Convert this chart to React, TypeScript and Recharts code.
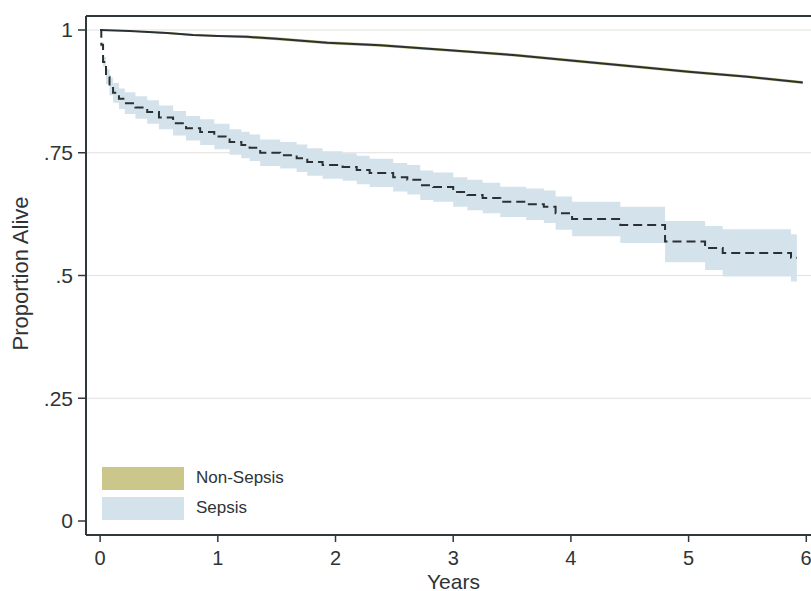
import {
  ComposedChart,
  Area,
  Line,
  XAxis,
  YAxis,
  CartesianGrid,
  ReferenceLine,
} from 'recharts'

// Kaplan-Meier estimates
const sepsisYears = [
  0, 0.01, 0.025, 0.05, 0.08, 0.11, 0.16, 0.21, 0.3, 0.4, 0.5, 0.62, 0.73, 0.85, 0.97,
  1.1, 1.2, 1.27, 1.36, 1.53, 1.67, 1.76, 1.89, 2.06, 2.18, 2.29, 2.49, 2.61, 2.72, 2.83,
  3.0, 3.12, 3.25, 3.4, 3.62, 3.77, 3.87, 4.01, 4.42, 4.8, 5.14, 5.29, 5.87, 5.92,
]
const sepsisSurv = [
  1, 0.97, 0.935, 0.905, 0.885, 0.872, 0.86, 0.851, 0.842, 0.833, 0.822, 0.81, 0.8, 0.792, 0.783,
  0.772, 0.766, 0.76, 0.75, 0.745, 0.739, 0.731, 0.725, 0.721, 0.715, 0.709, 0.7, 0.695, 0.684, 0.68,
  0.67, 0.664, 0.658, 0.65, 0.645, 0.64, 0.627, 0.615, 0.603, 0.569, 0.556, 0.546, 0.536, 0.536,
]
const sepsisLow = [
  1, 0.965, 0.925, 0.89, 0.867, 0.852, 0.839, 0.829, 0.819, 0.809, 0.798, 0.785, 0.775, 0.766, 0.757,
  0.746, 0.739, 0.733, 0.723, 0.718, 0.711, 0.703, 0.697, 0.693, 0.686, 0.68, 0.671, 0.665, 0.654, 0.65,
  0.64, 0.633, 0.627, 0.619, 0.613, 0.607, 0.593, 0.58, 0.566, 0.527, 0.511, 0.498, 0.488, 0.488,
]
const sepsisHigh = [
  1, 0.975, 0.945, 0.92, 0.903, 0.892, 0.881, 0.873, 0.865, 0.857, 0.846, 0.835, 0.825, 0.818, 0.809,
  0.798, 0.793, 0.787, 0.777, 0.772, 0.767, 0.759, 0.753, 0.749, 0.744, 0.738, 0.729, 0.725, 0.714, 0.71,
  0.7, 0.695, 0.689, 0.681, 0.677, 0.673, 0.661, 0.65, 0.64, 0.611, 0.601, 0.594, 0.584, 0.584,
]

const nonSepsisYears = [0, 0.25, 0.57, 0.79, 1.0, 1.25, 1.5, 1.93, 2.38, 3.0, 3.51, 4.0, 4.65, 5.0, 5.5, 5.97]
const nonSepsisSurv = [1, 0.998, 0.994, 0.99, 0.988, 0.986, 0.982, 0.974, 0.969, 0.958, 0.949, 0.938, 0.923, 0.915, 0.905, 0.893]
const nonSepsisLow = [1, 0.997, 0.992, 0.988, 0.986, 0.983, 0.979, 0.971, 0.966, 0.955, 0.946, 0.935, 0.92, 0.912, 0.902, 0.89]
const nonSepsisHigh = [1, 0.999, 0.996, 0.992, 0.99, 0.989, 0.985, 0.977, 0.972, 0.961, 0.952, 0.941, 0.926, 0.918, 0.908, 0.896]

const xTicks = [0, 1, 2, 3, 4, 5, 6]
const yTicks = [0, 0.25, 0.5, 0.75, 1]
const yTickLabels = ['0', '.25', '.5', '.75', '1']
const legendLabels = ['Non-Sepsis', 'Sepsis']

const X_DOMAIN: [number, number] = [-0.12, 6.04]
const Y_DOMAIN: [number, number] = [-0.0285, 1.0285]

const AXIS = '#2f383b'
const TEXT = '#2e3436'
const FONT = '"Liberation Sans", Arial, sans-serif'
const SEPSIS_FILL = '#d4e3eb'
const NONSEPSIS_FILL = '#cbc68a'

const sepsisData = sepsisYears.map((t, i) => ({
  t,
  s: sepsisSurv[i],
  band: [sepsisLow[i], sepsisHigh[i]],
}))
const nonSepsisData = nonSepsisYears.map((t, i) => ({
  t,
  s: nonSepsisSurv[i],
  band: [nonSepsisLow[i], nonSepsisHigh[i]],
}))

function LegendBox() {
  const colors = [NONSEPSIS_FILL, SEPSIS_FILL]
  return (
    <div
      style={{
        position: 'absolute',
        left: 102,
        top: 463,
        fontFamily: FONT,
        fontSize: 17,
        color: TEXT,
      }}
    >
      {legendLabels.map((label, i) => (
        <div key={label} style={{ display: 'flex', alignItems: 'center', height: 30 }}>
          <div style={{ width: 82, height: 23, background: colors[i] }} />
          <span style={{ marginLeft: 12 }}>{label}</span>
        </div>
      ))}
    </div>
  )
}

export default function App() {
  return (
    <div style={{ position: 'absolute', left: 0, top: 0, width: 811, height: 591, background: '#fff' }}>
      <ComposedChart
        width={811}
        height={591}
        margin={{ top: 16, right: 0, bottom: 0, left: 0 }}
      >
        <CartesianGrid horizontal vertical={false} stroke="#e4e1df" horizontalValues={[0.25, 0.5, 0.75, 1]} />
        <XAxis
          type="number"
          dataKey="t"
          domain={X_DOMAIN}
          ticks={xTicks}
          allowDataOverflow
          height={56}
          tickSize={7}
          tickMargin={9}
          axisLine={{ stroke: AXIS, strokeWidth: 2 }}
          tickLine={{ stroke: AXIS, strokeWidth: 1.5 }}
          tick={{ fill: TEXT, fontSize: 20, fontFamily: FONT }}
          label={{
            value: 'Years',
            position: 'insideBottom',
            offset: 2,
            dx: 5,
            style: { fill: TEXT, fontSize: 21, fontFamily: FONT },
          }}
        />
        <YAxis
          type="number"
          domain={Y_DOMAIN}
          ticks={yTicks}
          allowDataOverflow
          width={86}
          tickSize={8}
          tickMargin={5}
          tickFormatter={(v: number) => yTickLabels[yTicks.indexOf(v)] ?? String(v)}
          axisLine={{ stroke: AXIS, strokeWidth: 2 }}
          tickLine={{ stroke: AXIS, strokeWidth: 1.5 }}
          tick={{ fill: TEXT, fontSize: 21, fontFamily: FONT }}
          label={{
            value: 'Proportion Alive',
            angle: -90,
            position: 'insideLeft',
            offset: 20,
            dy: -2,
            style: { textAnchor: 'middle', fill: TEXT, fontSize: 22, fontFamily: FONT },
          }}
        />
        <ReferenceLine y={Y_DOMAIN[1]} stroke={AXIS} strokeWidth={2} />
        <Area
          data={nonSepsisData}
          dataKey="band"
          type="linear"
          stroke="none"
          fill={NONSEPSIS_FILL}
          fillOpacity={1}
          isAnimationActive={false}
        />
        <Area
          data={sepsisData}
          dataKey="band"
          type="stepAfter"
          stroke="none"
          fill={SEPSIS_FILL}
          fillOpacity={1}
          isAnimationActive={false}
        />
        <Line
          data={nonSepsisData}
          dataKey="s"
          type="linear"
          stroke="#2a3134"
          strokeWidth={2}
          dot={false}
          isAnimationActive={false}
        />
        <Line
          data={sepsisData}
          dataKey="s"
          type="stepAfter"
          stroke="#2a3134"
          strokeWidth={2}
          strokeDasharray="9 5"
          dot={false}
          isAnimationActive={false}
        />
      </ComposedChart>
      <LegendBox />
    </div>
  )
}
